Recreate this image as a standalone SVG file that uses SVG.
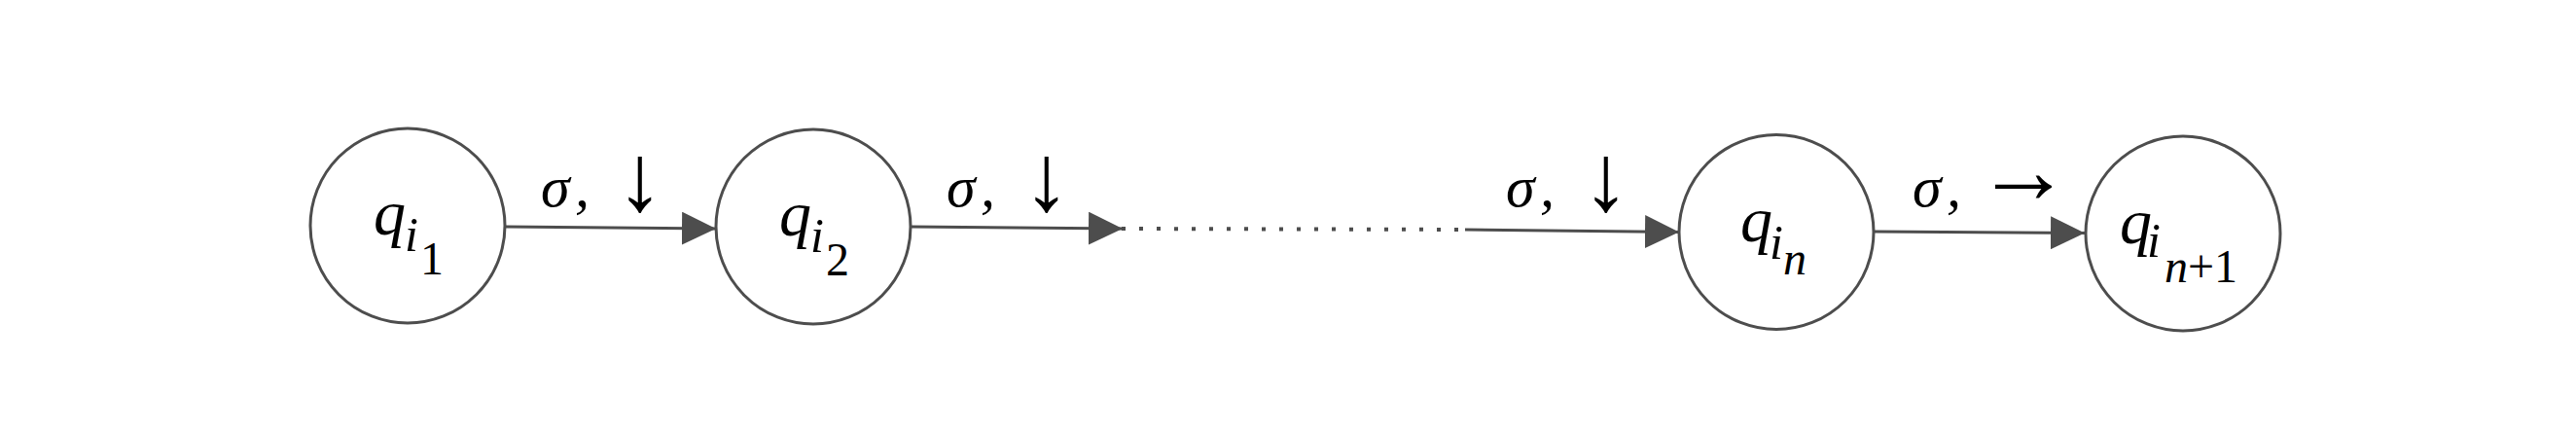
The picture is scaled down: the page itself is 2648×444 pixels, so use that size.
<svg xmlns="http://www.w3.org/2000/svg" width="2648" height="444" viewBox="0 0 2648 444">
<style>
.node{fill:#ffffff;stroke:#4d4d4d;stroke-width:3}
.edge{fill:none;stroke:#4d4d4d;stroke-width:3}
.dots{fill:none;stroke:#4d4d4d;stroke-width:4;stroke-dasharray:4 14}
.m{font-family:"Liberation Serif","DejaVu Serif",serif;fill:#000000}
.it{font-style:italic}
.up{font-style:normal}
.sig{font-size:60px;font-style:italic}
.arw{font-size:98px;font-style:normal}
.q{font-size:66px;font-style:italic}
.s1{font-size:50px;font-style:italic}
.s2{font-size:48px}
</style>
<defs>
<marker id="arr" markerUnits="userSpaceOnUse" markerWidth="36" markerHeight="34" refX="35" refY="17" orient="auto">
<path d="M0,0 L35,17 L0,34 Z" fill="#4d4d4d"/>
</marker>
</defs>
<rect width="2648" height="444" fill="#ffffff"/>
<g id="connectors">
<path class="edge" d="M520,233 L736,235" marker-end="url(#arr)"/>
<path class="edge" d="M936,233 L1154,235" marker-end="url(#arr)"/>
<path class="dots" d="M1153,235 L1508,236"/>
<path class="edge" d="M1506,236 L1726,238.5" marker-end="url(#arr)"/>
<path class="edge" d="M1927,238 L2143,239.5" marker-end="url(#arr)"/>
</g>
<g id="edge-labels">
<text class="m sig" y="212"><tspan x="556">σ</tspan><tspan x="591">,</tspan></text>
<text class="m arw" x="658" y="216" text-anchor="middle">↓</text>
<text class="m sig" y="212"><tspan x="973">σ</tspan><tspan x="1008">,</tspan></text>
<text class="m arw" x="1076" y="216" text-anchor="middle">↓</text>
<text class="m sig" y="212"><tspan x="1548">σ</tspan><tspan x="1583">,</tspan></text>
<text class="m arw" x="1651" y="216" text-anchor="middle">↓</text>
<text class="m sig" y="212"><tspan x="1966">σ</tspan><tspan x="2001">,</tspan></text>
<text class="m arw" x="2080" y="208" text-anchor="middle">→</text>
</g>
<g id="q1">
<circle class="node" cx="419" cy="232" r="100"/>
<text class="m"><tspan class="q" x="384" y="241">q</tspan><tspan class="s1" x="416" y="258">i</tspan><tspan class="s2 up" x="432" y="282">1</tspan></text>
</g>
<g id="q2">
<circle class="node" cx="836" cy="233" r="100"/>
<text class="m"><tspan class="q" x="801" y="242">q</tspan><tspan class="s1" x="833" y="259">i</tspan><tspan class="s2 up" x="849" y="283">2</tspan></text>
</g>
<g id="qn">
<circle class="node" cx="1826" cy="238.5" r="100"/>
<text class="m"><tspan class="q" x="1789" y="248">q</tspan><tspan class="s1" x="1819" y="266">i</tspan><tspan class="s2 it" x="1833" y="282">n</tspan></text>
</g>
<g id="qn1">
<circle class="node" cx="2244" cy="240" r="100"/>
<text class="m"><tspan class="q" x="2179" y="250">q</tspan><tspan class="s1" x="2207" y="264">i</tspan><tspan class="s2 it" x="2225" y="290">n</tspan><tspan class="s2 up">+1</tspan></text>
</g>
</svg>
